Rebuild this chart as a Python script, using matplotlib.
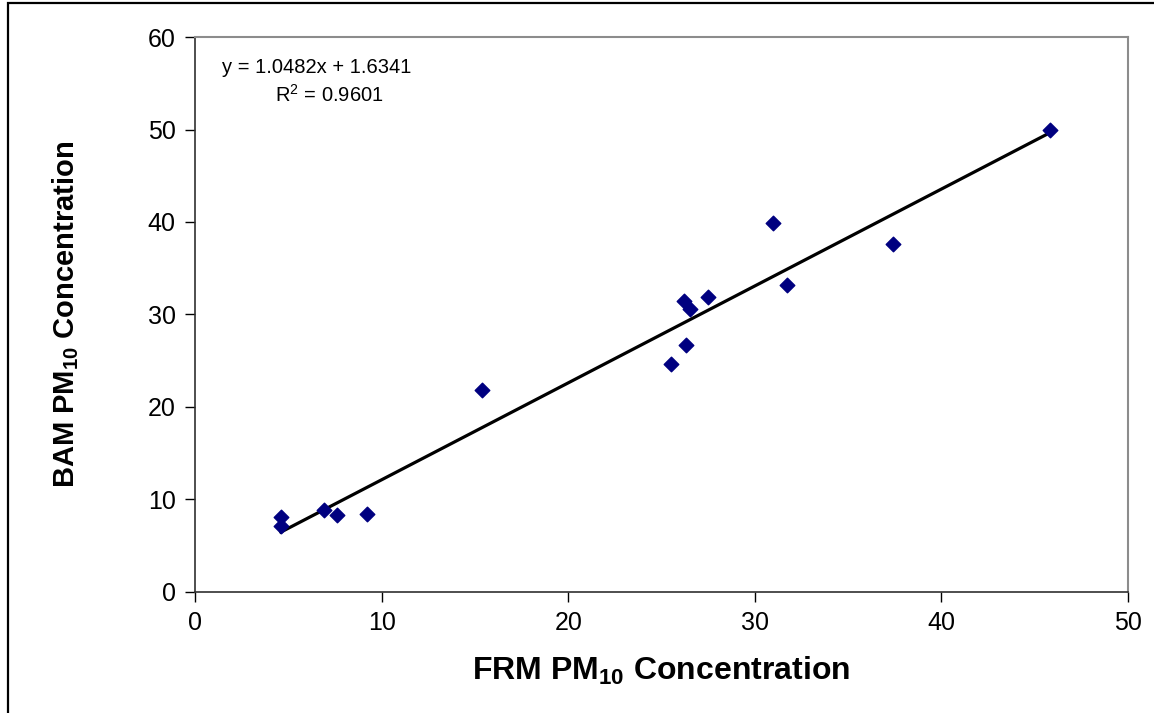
import matplotlib.pyplot as plt
import numpy as np
from matplotlib.patches import Rectangle

plt.rcParams['font.family'] = ['Liberation Sans', 'DejaVu Sans']
plt.rcParams['mathtext.fontset'] = 'custom'
plt.rcParams['mathtext.rm'] = 'Liberation Sans'
plt.rcParams['mathtext.bf'] = 'Liberation Sans:bold'

# FRM vs BAM PM10 concentrations
frm = [4.6, 4.6, 6.9, 7.6, 9.2, 15.4, 25.5, 26.2, 26.3, 26.5, 27.5, 31.0, 31.7, 37.4, 45.8]
bam = [8.1, 7.1, 8.9, 8.3, 8.4, 21.8, 24.6, 31.4, 26.7, 30.6, 31.9, 39.9, 33.2, 37.6, 50.0]

slope = 1.0482
intercept = 1.6341
r2 = 0.9601

fig = plt.figure(figsize=(11.54, 7.13), dpi=100)
ax = fig.add_axes([0.169, 0.17, 0.8085, 0.778])

# outer chart border (top and left edges visible)
fig.patches.append(Rectangle((8 / 1154, -0.1), 1.2, 1 - 3 / 713 + 0.1,
                             transform=fig.transFigure, fill=False,
                             edgecolor='black', linewidth=1.6))

ax.scatter(frm, bam, marker='D', s=55, color='#000080', zorder=3)

xfit = np.array([min(frm), max(frm)])
ax.plot(xfit, slope * xfit + intercept, color='black', linewidth=2.3, zorder=2)

ax.set_xlim(0, 50)
ax.set_ylim(0, 60)
ax.set_xticks(np.arange(0, 51, 10))
ax.set_yticks(np.arange(0, 61, 10))
ax.tick_params(direction='out', length=7, width=1, labelsize=18)
ax.tick_params(axis='x', pad=7)
ax.tick_params(axis='y', pad=7)

for side in ['top', 'right']:
    ax.spines[side].set_color('#8c8c8c')
    ax.spines[side].set_linewidth(1.5)
for side in ['left', 'bottom']:
    ax.spines[side].set_color('#303030')
    ax.spines[side].set_linewidth(1.2)

ax.set_xlabel(r'FRM PM$_{\mathbf{10}}$ Concentration', fontsize=23,
              fontweight='bold', labelpad=14)
ax.set_ylabel(r'BAM PM$_{\mathbf{10}}$ Concentration', fontsize=21,
              fontweight='bold', labelpad=48)

ax.text(0.029, 0.945, f'y = {slope}x + {intercept}', transform=ax.transAxes,
        fontsize=14.5, va='center', ha='left')
ax.text(0.086, 0.896, f'R$^2$ = {r2}', transform=ax.transAxes,
        fontsize=14.5, va='center', ha='left')

fig.savefig('out.png', dpi=100)
